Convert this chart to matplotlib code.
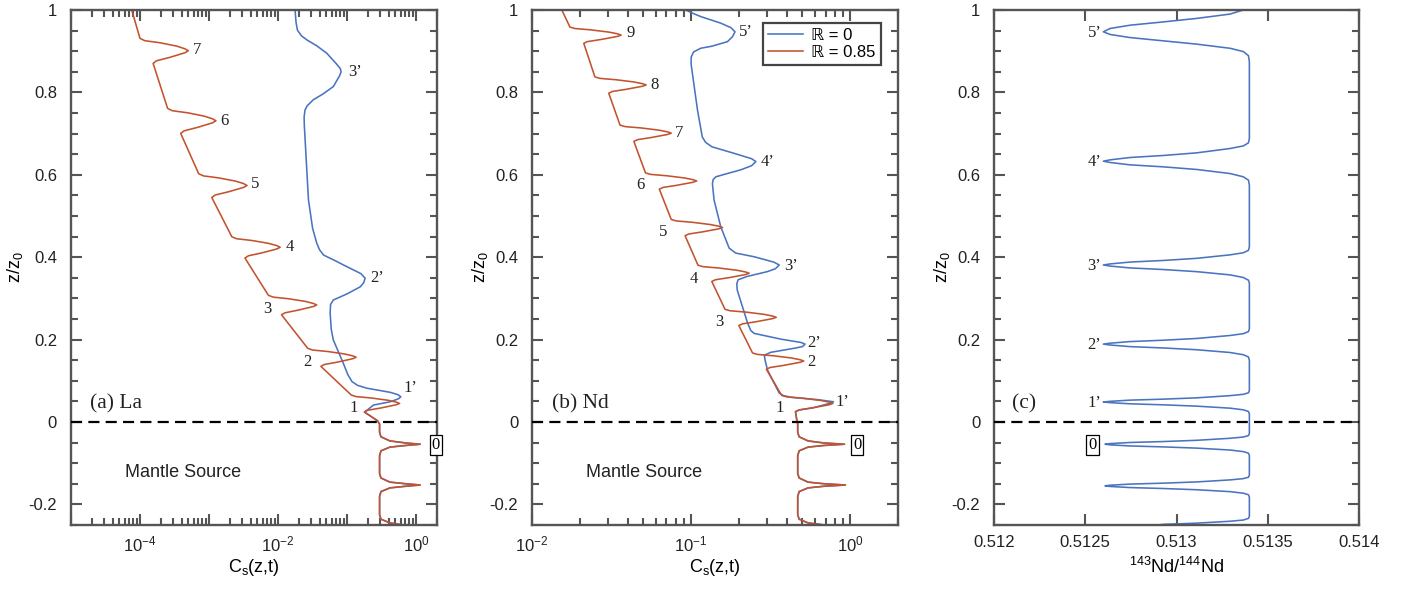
import numpy as np
import matplotlib
matplotlib.use("Agg")
import matplotlib.pyplot as plt
from matplotlib.ticker import FixedLocator, LogLocator, NullFormatter, MultipleLocator

plt.rcParams['font.family'] = ['Liberation Sans', 'DejaVu Sans']
plt.rcParams['mathtext.fontset'] = 'custom'
plt.rcParams['mathtext.rm'] = 'Liberation Sans'
plt.rcParams['mathtext.it'] = 'Liberation Sans:italic'

BLUE, RED, AXC = "#4a74c0", "#c2532e", "#555555"
SERIF = ['Liberation Serif', 'DejaVu Serif']
LW = 1.15

# concentrations are stored as log10(Cs)

# ---- (a) La, R = 0.85, above the source (z > 0) ----
la_red_logc = [-4.12,
               -4.00, -3.93, -3.71, -3.47, -3.35, -3.30, -3.35, -3.57, -3.76, -3.81,
               -3.60, -3.53, -3.31, -3.07, -2.95, -2.90, -2.95, -3.17, -3.36, -3.41,
               -3.15, -3.08, -2.86, -2.62, -2.50, -2.45, -2.50, -2.72, -2.91, -2.96,
               -2.67, -2.60, -2.38, -2.14, -2.02, -1.97, -2.02, -2.24, -2.43, -2.48,
               -2.14, -2.07, -1.85, -1.61, -1.49, -1.44, -1.49, -1.71, -1.90, -1.95,
               -1.57, -1.50, -1.28, -1.04, -0.92, -0.87, -0.92, -1.14, -1.33, -1.38,
               -0.94, -0.87, -0.65, -0.41, -0.29, -0.24, -0.29, -0.51, -0.70, -0.75,
               -0.56]
la_red_z = [1.0,
            0.931, 0.9254, 0.9204, 0.9123, 0.9058, 0.901, 0.8961, 0.8848, 0.8767, 0.8703,
            0.761, 0.7554, 0.7504, 0.7423, 0.7358, 0.731, 0.7261, 0.7148, 0.7067, 0.7003,
            0.6025, 0.5972, 0.5924, 0.5847, 0.5786, 0.574, 0.5693, 0.5586, 0.5509, 0.5448,
            0.4495, 0.4447, 0.4405, 0.4336, 0.4281, 0.424, 0.4198, 0.4102, 0.4033, 0.3979,
            0.3074, 0.3030, 0.2991, 0.2928, 0.2877, 0.284, 0.2802, 0.2714, 0.2650, 0.2601,
            0.1786, 0.1746, 0.1710, 0.1651, 0.1605, 0.157, 0.1535, 0.1453, 0.1395, 0.1349,
            0.0654, 0.0616, 0.0582, 0.0527, 0.0483, 0.045, 0.0417, 0.0340, 0.0285, 0.0241,
            0.003]
# ---- (a) La, R = 0 ----
la_blue_logc = [-1.754, -1.74, -1.72, -1.66, -1.58, -1.44, -1.295, -1.16, -1.10, -1.087,
                -1.11, -1.20, -1.35, -1.49, -1.58, -1.61, -1.623, -1.62, -1.56, -1.50,
                -1.44, -1.40, -1.34, -1.18, -1.005, -0.80, -0.739, -0.76, -0.81, -1.00,
                -1.20, -1.24, -1.246, -1.23, -1.20, -1.054, -0.99, -0.93, -0.85, -0.715,
                -0.377, -0.26, -0.222, -0.26, -0.377, -0.62, -0.70, -0.75, -0.56]
la_blue_z = [1.0, 0.97, 0.951, 0.937, 0.927, 0.913, 0.895, 0.870, 0.858, 0.850,
             0.840, 0.814, 0.796, 0.782, 0.767, 0.757, 0.740, 0.720, 0.539, 0.470,
             0.434, 0.418, 0.405, 0.392, 0.377, 0.360, 0.349, 0.338, 0.328, 0.311,
             0.296, 0.285, 0.264, 0.225, 0.199, 0.142, 0.115, 0.098, 0.089, 0.082,
             0.072, 0.066, 0.061, 0.056, 0.049, 0.041, 0.030, 0.0241, 0.003]
# ---- (a) mantle source, same for both R ----
la_mantle_logc = [-0.53, -0.53, -0.51, -0.38, -0.15, 0.058, -0.15, -0.38, -0.51, -0.53,
                  -0.53, -0.51, -0.38, -0.15, 0.058, -0.15, -0.38, -0.51, -0.53,
                  -0.53, -0.51, -0.38, -0.11]
mantle_z = [-0.005, -0.025, -0.036, -0.046, -0.051, -0.054, -0.057, -0.061, -0.070, -0.082,
            -0.125, -0.136, -0.146, -0.150, -0.153, -0.156, -0.160, -0.169, -0.181,
            -0.225, -0.236, -0.245, -0.252]

# ---- (b) Nd, R = 0.85 ----
nd_red_logc = [-1.813,
               -1.762, -1.730, -1.629, -1.518, -1.463, -1.440, -1.463, -1.564, -1.652, -1.675,
               -1.605, -1.573, -1.472, -1.361, -1.306, -1.283, -1.306, -1.407, -1.495, -1.518,
               -1.447, -1.415, -1.314, -1.203, -1.148, -1.125, -1.148, -1.249, -1.337, -1.360,
               -1.287, -1.255, -1.154, -1.043, -0.988, -0.965, -0.988, -1.089, -1.177, -1.200,
               -1.125, -1.093, -0.992, -0.881, -0.826, -0.803, -0.826, -0.927, -1.015, -1.038,
               -0.957, -0.925, -0.824, -0.713, -0.658, -0.635, -0.658, -0.759, -0.847, -0.870,
               -0.787, -0.755, -0.654, -0.543, -0.488, -0.465, -0.488, -0.589, -0.677, -0.700,
               -0.614, -0.582, -0.481, -0.370, -0.315, -0.292, -0.315, -0.416, -0.504, -0.527,
               -0.431, -0.399, -0.298, -0.187, -0.132, -0.109, -0.132, -0.233, -0.321, -0.344,
               -0.335]
nd_red_z = [1.0,
            0.9585, 0.9549, 0.9516, 0.9463, 0.9421, 0.939, 0.9358, 0.9285, 0.9232, 0.919,
            0.8375, 0.8339, 0.8306, 0.8253, 0.8211, 0.818, 0.8148, 0.8075, 0.8022, 0.798,
            0.7205, 0.7169, 0.7136, 0.7083, 0.7041, 0.701, 0.6978, 0.6905, 0.6852, 0.681,
            0.6045, 0.6009, 0.5976, 0.5923, 0.5881, 0.585, 0.5818, 0.5745, 0.5692, 0.565,
            0.4915, 0.4879, 0.4846, 0.4793, 0.4751, 0.472, 0.4688, 0.4615, 0.4562, 0.452,
            0.3805, 0.3769, 0.3736, 0.3683, 0.3641, 0.361, 0.3578, 0.3505, 0.3452, 0.341,
            0.2735, 0.2699, 0.2666, 0.2613, 0.2571, 0.254, 0.2508, 0.2435, 0.2382, 0.234,
            0.1675, 0.1639, 0.1606, 0.1553, 0.1511, 0.148, 0.1448, 0.1375, 0.1322, 0.128,
            0.0645, 0.0609, 0.0576, 0.0523, 0.0481, 0.045, 0.0418, 0.0345, 0.0292, 0.025,
            0.003]
# ---- (b) Nd, R = 0 ----
nd_blue_logc = [-1.035, -0.99, -0.94, -0.814, -0.75, -0.724, -0.74, -0.772, -0.87, -0.94,
                -0.985, -1.0, -1.0, -0.96, -0.93, -0.91, -0.87, -0.73, -0.62, -0.593,
                -0.62, -0.688, -0.80, -0.845, -0.862, -0.866, -0.856, -0.814, -0.761, -0.72,
                -0.604, -0.48, -0.446, -0.47, -0.52, -0.65, -0.705, -0.713, -0.71, -0.645,
                -0.625, -0.604, -0.435, -0.31, -0.284, -0.30, -0.35, -0.50, -0.54, -0.535,
                -0.52, -0.446, -0.42, -0.372, -0.20, -0.105, -0.14, -0.233, -0.321, -0.344,
                -0.335]
nd_blue_z = [1.0, 0.992, 0.984, 0.968, 0.957, 0.947, 0.935, 0.923, 0.912, 0.907,
             0.898, 0.885, 0.868, 0.757, 0.692, 0.679, 0.668, 0.652, 0.639, 0.632,
             0.622, 0.612, 0.600, 0.595, 0.588, 0.578, 0.539, 0.474, 0.422, 0.410,
             0.401, 0.388, 0.381, 0.372, 0.365, 0.353, 0.345, 0.335, 0.320, 0.240,
             0.222, 0.215, 0.201, 0.193, 0.189, 0.183, 0.179, 0.169, 0.162, 0.150,
             0.126, 0.070, 0.064, 0.060, 0.054, 0.049, 0.044, 0.0345, 0.0292, 0.025,
             0.003]
nd_mantle_logc = [-0.33, -0.33, -0.321, -0.265, -0.164, -0.036, -0.164, -0.265, -0.321, -0.33,
                  -0.33, -0.321, -0.265, -0.164, -0.03, -0.164, -0.265, -0.321, -0.33,
                  -0.33, -0.321, -0.265, -0.12]

# ---- (c) 143Nd/144Nd, R = 0 ----
ratio = [0.513366, 0.513293, 0.513111, 0.512928, 0.512745, 0.512636, 0.512599,
         0.512636, 0.512745, 0.512928, 0.513111, 0.513293, 0.513366, 0.513394, 0.513399,
         0.513399, 0.513394, 0.513366, 0.513293, 0.513111, 0.512928, 0.512745, 0.512636,
         0.512599,
         0.512636, 0.512745, 0.512928, 0.513111, 0.513293, 0.513366, 0.513394, 0.513399,
         0.513399, 0.513394, 0.513366, 0.513293, 0.513111, 0.512928, 0.512745, 0.512636,
         0.512599,
         0.512636, 0.512745, 0.512928, 0.513111, 0.513293, 0.513366, 0.513394, 0.513399,
         0.513399, 0.513394, 0.513366, 0.513293, 0.513111, 0.512928, 0.512745, 0.512636,
         0.512599,
         0.512636, 0.512745, 0.512928, 0.513111, 0.513293, 0.513366, 0.513394, 0.513399,
         0.513399, 0.513394, 0.513366, 0.513293, 0.513111, 0.512928, 0.512745, 0.512636,
         0.512599,
         0.512636, 0.512745, 0.512928, 0.513111, 0.513293, 0.513366, 0.513394, 0.513399,
         0.513399, 0.513394, 0.513366, 0.513293, 0.513111, 0.512928, 0.512745, 0.512636,
         0.512608,
         0.512636, 0.512745, 0.512928, 0.513111, 0.513293, 0.513366, 0.513394, 0.513399,
         0.513399, 0.513394, 0.513366, 0.513293, 0.513111, 0.512928, 0.512745, 0.512636,
         0.512608,
         0.512636, 0.512745, 0.512928, 0.513111, 0.513293, 0.513366, 0.513394, 0.513399,
         0.513399, 0.513394, 0.513366, 0.513293, 0.513111, 0.512928, 0.512900]
ratio_z = [1.0, 0.990, 0.9795, 0.971, 0.963, 0.955, 0.947,
           0.9405, 0.933, 0.925, 0.917, 0.907, 0.899, 0.889, 0.874,
           0.688, 0.6775, 0.670, 0.6637, 0.6532, 0.6468, 0.6419, 0.6362, 0.633,
           0.6298, 0.6241, 0.6192, 0.6128, 0.603, 0.595, 0.5869, 0.575,
           0.4255, 0.4166, 0.4107, 0.4056, 0.3972, 0.3920, 0.3881, 0.3836, 0.381,
           0.3784, 0.3739, 0.3700, 0.3648, 0.357, 0.3506, 0.3441, 0.337,
           0.2264, 0.2193, 0.2143, 0.2099, 0.2027, 0.1984, 0.1951, 0.1912, 0.189,
           0.1868, 0.1829, 0.1796, 0.1753, 0.1686, 0.1632, 0.1577, 0.1496,
           0.076, 0.0708, 0.0671, 0.0639, 0.0586, 0.0554, 0.053, 0.0501, 0.0485,
           0.0469, 0.0441, 0.0416, 0.0384, 0.0335, 0.0295, 0.0255, 0.0195,
           -0.0282, -0.0331, -0.0365, -0.0396, -0.0445, -0.0475, -0.0498, -0.0525, -0.054,
           -0.0555, -0.0582, -0.0605, -0.0635, -0.0681, -0.0719, -0.0757, -0.0813,
           -0.1292, -0.1341, -0.1375, -0.1406, -0.1455, -0.1485, -0.1508, -0.1535, -0.155,
           -0.1565, -0.1592, -0.1615, -0.1645, -0.1691, -0.1729, -0.1767, -0.1823,
           -0.229, -0.234, -0.238, -0.241, -0.2455, -0.2485, -0.25]

# peak labels: (text, x, z)
la_labels = [("7", 6.6e-4, 0.903), ("6", 1.66e-3, 0.731), ("5", 4.7e-3, 0.577),
             ("4", 1.48e-2, 0.424), ("3", 7.0e-3, 0.273), ("2", 2.66e-2, 0.146),
             ("1", 0.126, 0.033), ("3\u2019", 0.131, 0.850), ("2\u2019", 0.27, 0.349),
             ("1\u2019", 0.82, 0.082)]
nd_labels = [("9", 0.0415, 0.943), ("8", 0.0589, 0.818), ("7", 0.0845, 0.701),
             ("6", 0.048, 0.575), ("5", 0.0668, 0.462), ("4", 0.104, 0.346),
             ("3", 0.151, 0.243), ("2", 0.568, 0.146), ("1", 0.358, 0.033),
             ("5\u2019", 0.221, 0.946), ("4\u2019", 0.302, 0.630), ("3\u2019", 0.425, 0.379),
             ("2\u2019", 0.596, 0.191), ("1\u2019", 0.90, 0.049)]
ratio_labels = [("5\u2019", 0.51255, 0.945), ("4\u2019", 0.51255, 0.632),
                ("3\u2019", 0.51255, 0.379), ("2\u2019", 0.51255, 0.188),
                ("1\u2019", 0.51255, 0.047)]
source_label = {"a": (1.93, -0.056), "b": (1.107, -0.056), "c": (0.51254, -0.057)}

yticks = [-0.2, 0, 0.2, 0.4, 0.6, 0.8, 1]
yticklabels = ["-0.2", "0", "0.2", "0.4", "0.6", "0.8", "1"]


def style(ax):
    for s in ax.spines.values():
        s.set_color(AXC); s.set_linewidth(1.7)
    ax.set_ylim(-0.25, 1)
    ax.yaxis.set_major_locator(FixedLocator(yticks))
    ax.set_yticklabels(yticklabels)
    ax.yaxis.set_minor_locator(MultipleLocator(0.05))
    ax.tick_params(which='both', direction='in', top=True, right=True, color=AXC,
                   width=1.5, labelsize=12, labelcolor='#222222')
    ax.tick_params(which='major', length=8)
    ax.tick_params(which='minor', length=5)
    ax.tick_params(axis='y', pad=10)
    ax.tick_params(axis='x', pad=7)
    ax.axhline(0, color='black', lw=1.6, ls=(0, (5, 2.8)), zorder=3)
    ax.set_ylabel(r'z/z$_0$', fontsize=13)
    ax.set_xlabel(ax.get_xlabel(), fontsize=13)


def log_ticks(ax, lo, labels):
    decades = [10.0 ** k for k in range(lo, 1)]
    ax.xaxis.set_major_locator(FixedLocator(decades))
    ax.set_xticklabels(labels)
    ax.xaxis.set_minor_locator(LogLocator(base=10, subs=np.arange(2, 10), numticks=30))
    ax.xaxis.set_minor_formatter(NullFormatter())


def peak_labels(ax, items, box_xy):
    for t, x, z in items:
        ax.text(x, z, t, fontsize=12, family=SERIF, ha='center', va='center', color='#222222')
    ax.text(box_xy[0], box_xy[1], "0", fontsize=12, family=SERIF, ha='center', va='center',
            bbox=dict(boxstyle='square,pad=0.12', fc='white', ec='black', lw=0.9), zorder=5)


fig = plt.figure(figsize=(14.05, 5.89), dpi=100)
ax_a = fig.add_axes([0.0505, 0.1087, 0.2605, 0.8744])
ax_b = fig.add_axes([0.3787, 0.1087, 0.2605, 0.8744])
ax_c = fig.add_axes([0.7075, 0.1087, 0.2598, 0.8744])

# (a) La
ax_a.set_xscale('log')
ax_a.plot(10.0 ** np.array(la_blue_logc + la_mantle_logc), la_blue_z + mantle_z,
          color=BLUE, lw=LW, label='\u211d = 0')
ax_a.plot(10.0 ** np.array(la_red_logc + la_mantle_logc), la_red_z + mantle_z,
          color=RED, lw=LW, label='\u211d = 0.85')
ax_a.set_xlim(1e-5, 2)
log_ticks(ax_a, -5, ["", "10$^{-4}$", "", "10$^{-2}$", "", "10$^{0}$"])
ax_a.set_xlabel(r'C$_\mathregular{s}$(z,t)')
style(ax_a)
peak_labels(ax_a, la_labels, source_label["a"])
ax_a.text(0.052, 0.236, "(a) La", transform=ax_a.transAxes, fontsize=15.5, family=SERIF,
          ha='left', va='center', color='#222222')
ax_a.text(0.306, 0.101, "Mantle Source", transform=ax_a.transAxes, fontsize=13,
          ha='center', va='center', color='#222222')

# (b) Nd
ax_b.set_xscale('log')
ax_b.plot(10.0 ** np.array(nd_blue_logc + nd_mantle_logc), nd_blue_z + mantle_z,
          color=BLUE, lw=LW, label='\u211d = 0')
ax_b.plot(10.0 ** np.array(nd_red_logc + nd_mantle_logc), nd_red_z + mantle_z,
          color=RED, lw=LW, label='\u211d = 0.85')
ax_b.set_xlim(1e-2, 2)
log_ticks(ax_b, -2, ["10$^{-2}$", "10$^{-1}$", "10$^{0}$"])
ax_b.set_xlabel(r'C$_\mathregular{s}$(z,t)')
style(ax_b)
peak_labels(ax_b, nd_labels, source_label["b"])
ax_b.text(0.054, 0.236, "(b) Nd", transform=ax_b.transAxes, fontsize=15.5, family=SERIF,
          ha='left', va='center', color='#222222')
ax_b.text(0.306, 0.101, "Mantle Source", transform=ax_b.transAxes, fontsize=13,
          ha='center', va='center', color='#222222')
leg = ax_b.legend(loc='upper right', bbox_to_anchor=(0.953, 0.975), fancybox=False,
                  edgecolor='#444444', framealpha=1, fontsize=12, handlelength=2.1,
                  borderpad=0.3, labelspacing=0.15, handletextpad=0.5, borderaxespad=0)
leg.get_frame().set_linewidth(1.6)

# (c) 143Nd/144Nd
ax_c.plot(ratio, ratio_z, color=BLUE, lw=LW)
ax_c.set_xlim(0.512, 0.514)
ax_c.xaxis.set_major_locator(FixedLocator([0.512, 0.5125, 0.513, 0.5135, 0.514]))
ax_c.set_xticklabels(["0.512", "0.5125", "0.513", "0.5135", "0.514"])
ax_c.set_xlabel(r'$^{143}$Nd/$^{144}$Nd')
style(ax_c)
ax_c.tick_params(axis='x', which='minor', length=0)
peak_labels(ax_c, ratio_labels, source_label["c"])
ax_c.text(0.048, 0.236, "(c)", transform=ax_c.transAxes, fontsize=15.5, family=SERIF,
          ha='left', va='center', color='#222222')

for ax, lx in ((ax_a, -0.125), (ax_b, -0.115), (ax_c, -0.115)):
    ax.yaxis.set_label_coords(lx, 0.5)
    ax.xaxis.set_label_coords(0.5, -0.062)

fig.savefig("out.png", dpi=100)
